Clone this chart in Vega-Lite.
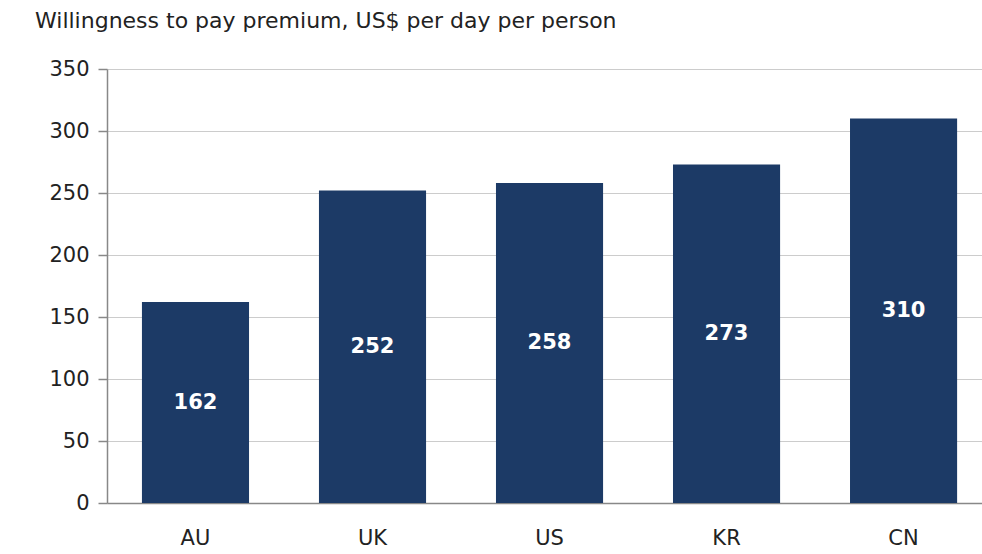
{
  "$schema": "https://vega.github.io/schema/vega-lite/v6.json",
  "autosize": "none",
  "padding": {"left": 107, "top": 69, "right": 0, "bottom": 51},
  "width": 875,
  "height": 434,
  "background": "white",
  "title": {
    "text": "Willingness to pay premium, US$ per day per person",
    "anchor": "start",
    "frame": "group",
    "dx": -72,
    "offset": 25,
    "font": "DejaVu Sans",
    "fontSize": 22,
    "fontWeight": "normal",
    "color": "#222222"
  },
  "config": {"view": {"stroke": null}, "font": "DejaVu Sans"},
  "data": {
    "values": [
      {"country": "AU", "value": 162},
      {"country": "UK", "value": 252},
      {"country": "US", "value": 258},
      {"country": "KR", "value": 273},
      {"country": "CN", "value": 310}
    ]
  },
  "encoding": {
    "x": {
      "field": "country",
      "type": "nominal",
      "sort": null,
      "scale": {"paddingInner": 0.395, "paddingOuter": 0.169, "align": 0.584},
      "axis": {
        "title": null,
        "labelAngle": 0,
        "labelFontSize": 21,
        "labelColor": "#222222",
        "labelPadding": 24,
        "ticks": false,
        "domainColor": "#888888",
        "domainWidth": 1.5,
        "grid": false
      }
    }
  },
  "layer": [
    {
      "mark": {"type": "bar", "color": "#1c3a66"},
      "encoding": {
        "y": {
          "field": "value",
          "type": "quantitative",
          "scale": {"domain": [0, 350], "nice": false},
          "axis": {
            "title": null,
            "values": [0, 50, 100, 150, 200, 250, 300, 350],
            "labelFontSize": 21,
            "labelColor": "#222222",
            "labelPadding": 9,
            "tickSize": 9,
            "tickColor": "#888888",
            "tickWidth": 1.5,
            "domainColor": "#888888",
            "domainWidth": 1.5,
            "gridColor": "#cccccc",
            "gridWidth": 1
          }
        }
      }
    },
    {
      "transform": [{"calculate": "datum.value / 2", "as": "mid"}],
      "mark": {"type": "text", "color": "white", "fontSize": 21, "fontWeight": "bold", "baseline": "middle"},
      "encoding": {
        "y": {"field": "mid", "type": "quantitative"},
        "text": {"field": "value", "type": "quantitative"}
      }
    }
  ]
}
